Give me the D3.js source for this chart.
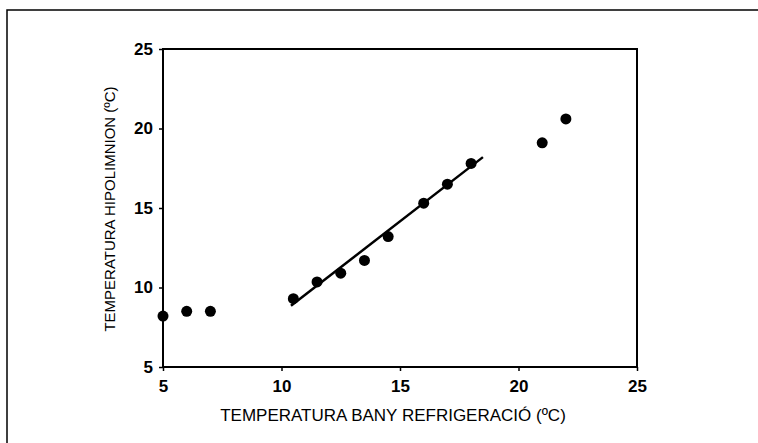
<!DOCTYPE html>
<html><head><meta charset="utf-8">
<script src="https://cdn.jsdelivr.net/npm/d3@7/dist/d3.min.js"></script>
<style>body{margin:0;background:#fff}svg{display:block}</style>
</head><body>
<svg id="c" width="758" height="443"></svg>
<script>
const bathTemp = [5, 6, 7, 10.5, 11.5, 12.5, 13.5, 14.5, 16, 17, 18, 21, 22];
const hypoTemp = [8.2, 8.5, 8.5, 9.3, 10.35, 10.9, 11.7, 13.2, 15.3, 16.5, 17.8, 19.1, 20.6];
const fitX = [10.4, 18.5];
const fitY = [8.85, 18.2];
const xTicks = [5, 10, 15, 20, 25];
const yTicks = [5, 10, 15, 20, 25];
const xTitle = "TEMPERATURA BANY REFRIGERACIÓ (ºC)";
const yTitle = "TEMPERATURA HIPOLIMNION (ºC)";

const svg = d3.select("#c");
const L = 163, R = 637, T = 49, B = 367;
const x = d3.scaleLinear().domain([5, 25]).range([L, R]);
const y = d3.scaleLinear().domain([5, 25]).range([B, T]);
const font = "'Liberation Sans', Arial, Helvetica, sans-serif";

// outer frame
svg.append("path").attr("d", "M7,443 V10 H758").attr("fill", "none").attr("stroke", "#000").attr("stroke-width", 1.5);

// plot box
svg.append("rect").attr("x", L).attr("y", T).attr("width", R - L).attr("height", B - T)
  .attr("fill", "none").attr("stroke", "#000").attr("stroke-width", 2);

const xa = svg.append("g").attr("transform", `translate(0,${B})`)
  .call(d3.axisBottom(x).tickValues(xTicks).tickSize(4).tickPadding(9).tickFormat(d3.format("d")));
const ya = svg.append("g").attr("transform", `translate(${L},0)`)
  .call(d3.axisLeft(y).tickValues(yTicks).tickSize(4).tickPadding(6).tickFormat(d3.format("d")));
[xa, ya].forEach(a => {
  a.select(".domain").remove();
  a.selectAll("line").attr("stroke", "#000").attr("stroke-width", 1.5);
  a.selectAll("text").attr("font-family", font).attr("font-size", 17).attr("font-weight", "bold").attr("fill", "#000");
});

// titles
svg.append("text").attr("x", 393).attr("y", 421).attr("text-anchor", "middle")
  .attr("font-family", font).attr("font-size", 17).attr("fill", "#000").text(xTitle);
svg.append("text").attr("transform", `translate(115,209) rotate(-90)`).attr("text-anchor", "middle")
  .attr("font-family", font).attr("font-size", 15).attr("fill", "#000").text(yTitle);

// regression line
svg.append("line").attr("x1", x(fitX[0])).attr("y1", y(fitY[0])).attr("x2", x(fitX[1])).attr("y2", y(fitY[1]))
  .attr("stroke", "#000").attr("stroke-width", 2.5);

// points
svg.selectAll("circle.pt").data(bathTemp.map((d, i) => [d, hypoTemp[i]])).enter().append("circle")
  .attr("class", "pt").attr("cx", d => x(d[0])).attr("cy", d => y(d[1])).attr("r", 5.5).attr("fill", "#000");
</script>
</body></html>
